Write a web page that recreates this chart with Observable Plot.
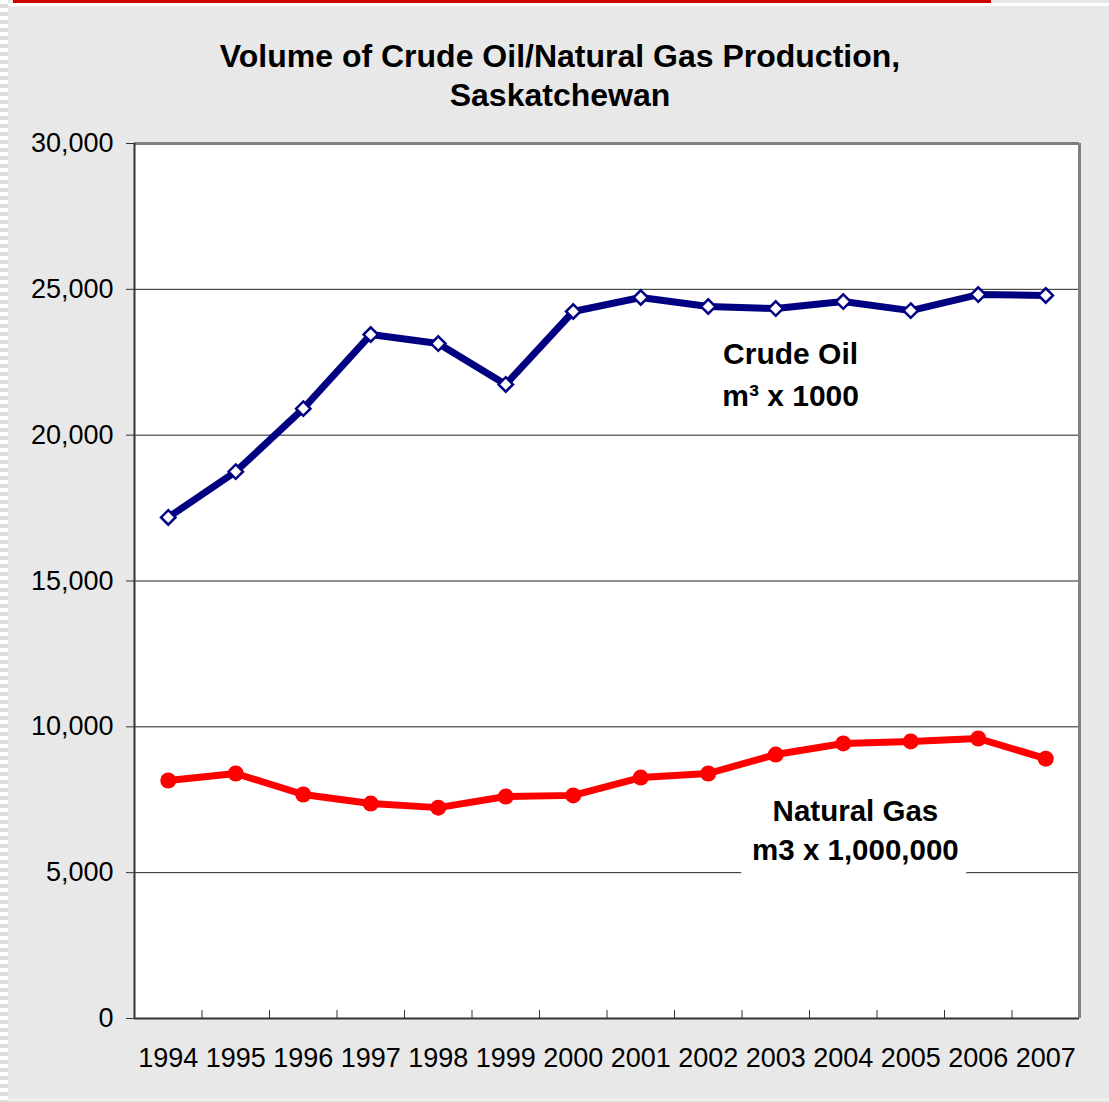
<!DOCTYPE html>
<html>
<head>
<meta charset="utf-8">
<script src="https://cdn.jsdelivr.net/npm/d3@7"></script>
<script src="https://cdn.jsdelivr.net/npm/@observablehq/plot@0.6"></script>
<style>
  html, body { margin: 0; padding: 0; }
  body { width: 1109px; height: 1102px; background: #e8e8e8; position: relative; overflow: hidden; font-family: "Liberation Sans", Arial, sans-serif; }
  #strip { position: absolute; left: 0; top: 0; width: 8px; height: 1102px; background: repeating-linear-gradient(to bottom, #ffffff 0 4px, #dcdcdc 4px 8px); }
  #redbar { position: absolute; left: 13px; top: 0; width: 978px; height: 3px; background: #d10000; }
  #whitebar { position: absolute; left: 8px; top: 3px; width: 1101px; height: 3px; background: #ffffff; }
  #bottomline { position: absolute; left: 8px; top: 1099px; width: 1101px; height: 1px; background: #f6f6f6; }
  #title { position: absolute; left: 10px; top: 37px; width: 1100px; text-align: center; font-weight: bold; font-size: 32px; line-height: 39px; color: #000; }
  #chart { position: absolute; left: 0; top: 115px; }
</style>
</head>
<body>
<div id="strip"></div>
<div id="whitebar"></div>
<div id="redbar"></div>
<div id="bottomline"></div>
<div id="title">Volume of Crude Oil/Natural Gas Production,<br>Saskatchewan</div>
<div id="chart"></div>
<script>
const years = [1994, 1995, 1996, 1997, 1998, 1999, 2000, 2001, 2002, 2003, 2004, 2005, 2006, 2007];
const crudeOil = [17180, 18750, 20910, 23450, 23140, 21740, 24240, 24720, 24410, 24340, 24580, 24270, 24820, 24790];
const naturalGas = [8160, 8400, 7680, 7370, 7230, 7610, 7650, 8260, 8400, 9050, 9430, 9500, 9600, 8910];
const yTicks = [0, 5000, 10000, 15000, 20000, 25000, 30000];
const gridValues = [5000, 10000, 15000, 20000, 25000];
const labels = [
  {text: "Crude Oil\nm\u00b3 x 1000", x: 2003.22, y: 22190},
  {text: "Natural Gas\nm3 x 1,000,000", x: 2004.18, y: 6520}
];

const oil = years.map((yr, i) => ({year: yr, value: crudeOil[i]}));
const gas = years.map((yr, i) => ({year: yr, value: naturalGas[i]}));
const boundaries = years.slice(1).map(yr => yr - 0.5);
const xDomain = [years[0] - 0.5, years[years.length - 1] + 0.5];
const yDomain = [yTicks[0], yTicks[yTicks.length - 1]];

const chart = Plot.plot({
  width: 1109,
  height: 987,
  marginTop: 28,
  marginBottom: 84,
  marginLeft: 134,
  marginRight: 30,
  style: {fontFamily: "'Liberation Sans', Arial, sans-serif", background: "transparent", color: "#000"},
  x: {domain: xDomain, label: null},
  y: {domain: yDomain, label: null},
  marks: [
    Plot.frame({fill: "white", stroke: null}),
    Plot.ruleY(gridValues, {stroke: "#222", strokeWidth: 1}),
    Plot.ruleY([yDomain[1]], {stroke: "#808080", strokeWidth: 3}),
    Plot.ruleX([xDomain[1]], {stroke: "#808080", strokeWidth: 3}),
    Plot.ruleX([xDomain[0]], {stroke: "#333", strokeWidth: 2}),
    Plot.ruleY([yDomain[0]], {stroke: "#333", strokeWidth: 2}),
    Plot.axisY({ticks: yTicks, tickSize: 8, tickPadding: 13, tickFormat: d3.format(","), fontSize: 27, stroke: "#333", label: null}),
    Plot.axisX({ticks: years, tickSize: 0, tickPadding: 29, tickFormat: d => String(d), fontSize: 27, label: null}),
    Plot.axisX({ticks: boundaries, tickSize: -8, tickFormat: () => "", stroke: "#333", label: null}),
    Plot.line(oil, {x: "year", y: "value", stroke: "#000080", strokeWidth: 7, strokeLinejoin: "round"}),
    Plot.dot(oil, {x: "year", y: "value", symbol: "diamond2", r: 6.5, fill: "white", stroke: "#000080", strokeWidth: 2.5}),
    Plot.line(gas, {x: "year", y: "value", stroke: "#ff0000", strokeWidth: 7, strokeLinejoin: "round"}),
    Plot.dot(gas, {x: "year", y: "value", r: 8, fill: "#ff0000", stroke: null}),
    Plot.text([labels[0]], {x: "x", y: "y", text: "text", fontSize: 30, fontWeight: "bold", lineHeight: 1.43, textAnchor: "middle", fill: "#000"}),
    Plot.text([labels[1]], {x: "x", y: "y", text: "text", fontSize: 29.5, fontWeight: "bold", lineHeight: 1.29, textAnchor: "middle", fill: "#000", stroke: "white", strokeWidth: 36, strokeLinejoin: "round", paintOrder: "stroke"})
  ]
});
document.getElementById("chart").appendChild(chart);
</script>
</body>
</html>
